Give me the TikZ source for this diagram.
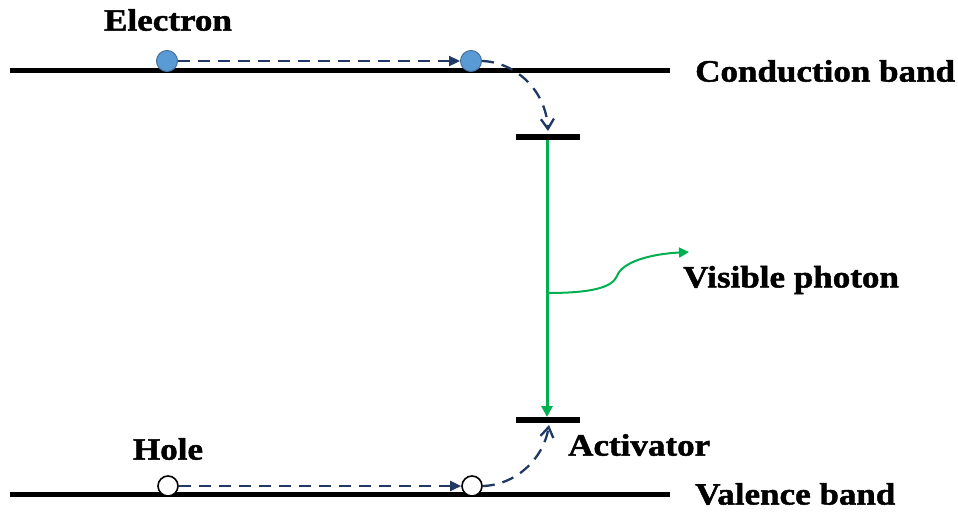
\documentclass[tikz,border=0pt]{standalone}
\usepackage{fontspec}
\setmainfont{Liberation Serif}[FakeStretch=1.13,FakeBold=1.5]
\usetikzlibrary{arrows.meta}
\definecolor{navy}{HTML}{1F3864}
\definecolor{dotblue}{HTML}{5B9BD5}
\definecolor{dotedge}{HTML}{41719C}
\definecolor{pgreen}{HTML}{00B050}
\tikzset{
  band/.style={line width=5pt},
  actbar/.style={line width=6pt},
  electron/.style={circle,fill=dotblue,draw=dotedge,line width=1pt,minimum size=21pt,inner sep=0pt},
  hole/.style={circle,fill=white,draw=black,line width=1.6pt,minimum size=20pt,inner sep=0pt},
  move/.style={navy,line width=2.3pt,dash pattern=on 12pt off 8pt},
  lbl/.style={font=\bfseries\fontsize{31}{34}\selectfont,inner sep=0pt},
}
\begin{document}
\begin{tikzpicture}[x=1pt,y=-1pt]
\useasboundingbox (0,0) rectangle (958,512);
% bands
\coordinate (cbL) at (10,70); \coordinate (cbR) at (670,70);
\coordinate (vbL) at (10,494); \coordinate (vbR) at (670,494);
\draw[band] (cbL) -- (cbR);
\draw[band] (vbL) -- (vbR);
% activator levels
\coordinate (a1L) at (516,137); \coordinate (a1R) at (580,137);
\coordinate (a2L) at (516,420); \coordinate (a2R) at (580,420);
\draw[actbar] (a1L) -- (a1R);
\draw[actbar] (a2L) -- (a2R);
\coordinate (gtop) at (547,140); \coordinate (gbot) at (547,417);
\coordinate (gmid) at (547,293);
\draw[pgreen,line width=3pt,-{Triangle[length=11pt,width=11pt]}] (gtop) -- (gbot);
\coordinate (ph) at (689,252);
\draw[pgreen,line width=2pt,-{Triangle[length=10pt,width=10pt]}] (gmid) .. controls (590,293) and (612,288) .. (617,276) .. controls (622,262) and (650,254) .. (ph);
% electrons
\node[electron] (e1) at (167,61) {};
\node[electron] (e2) at (471,61) {};
\draw[move,-{Triangle[length=11pt,width=10pt]}] (e1) -- (e2);
\coordinate (etgt) at (548,131);
\draw[move,-{Straight Barb[length=10pt,width=13pt]}] (e2.east) .. controls (515,62) and (546,90) .. (etgt);
% holes
\node[hole] (h1) at (168,486) {};
\node[hole] (h2) at (472,486) {};
\draw[move,-{Triangle[length=11pt,width=10pt]}] (h1) -- (h2);
\coordinate (htgt) at (549,425);
\draw[move,-{Straight Barb[length=10pt,width=13pt]}] (h2.east) .. controls (515,485) and (543,460) .. (htgt);
% labels
\node[lbl] (tEl) at (168,20) {Electron};
\node[lbl,anchor=west] (tCb) at (695,71) {Conduction band};
\node[lbl,anchor=west] (tVp) at (683,280) {Visible photon};
\node[lbl] (tHo) at (168,449) {Hole};
\node[lbl,anchor=west] (tAc) at (568,445) {Activator};
\node[lbl,anchor=west] (tVb) at (695,494) {Valence band};
\end{tikzpicture}
\end{document}
